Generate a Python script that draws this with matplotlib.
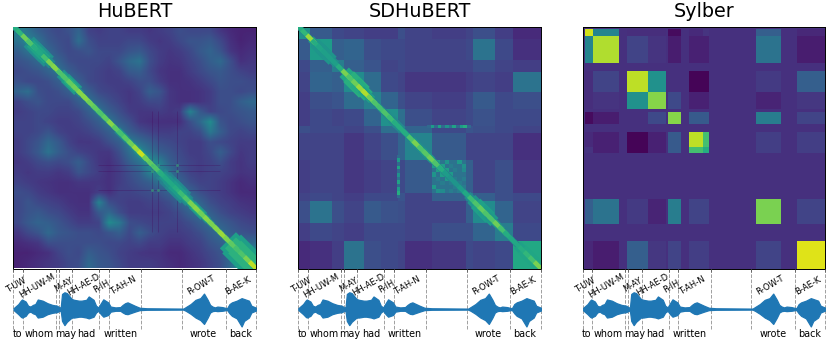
import numpy as np
import matplotlib
matplotlib.use("Agg")
import matplotlib.pyplot as plt
from matplotlib.collections import LineCollection

W, H = 831, 344
titles = ["HuBERT", "SDHuBERT", "Sylber"]
syllables = ["T-UW", "HH-UW-M", "M-AY", "HH-AE-D", "R-IH", "T-AH-N", "R-OW-T", "B-AE-K"]
syllable_x = [.010, .096, .206, .288, .364, .450, .773, .927]
syllable_y = [1.41, 1.37, 1.47, 1.47, 1.35, 1.37, 1.41, 1.41]
words = ["to", "whom", "may", "had", "written", "wrote", "back"]
word_x = [.018, .107, .213, .300, .440, .783, .934]
boundaries = [0, .038, .174, .188, .243, .354, .393, .527, .694, .874, 1]

wave_x = [0, .02, .03, .035, .05, .06, .07, .08, .09, .10, .12, .14, .16, .18, .19, .195, .2, .21, .22, .24, .25, .27, .28, .30,
          .31, .33, .34, .35, .36, .37, .39, .40, .42, .44, .45, .46, .47, .50, .52, .55, .70, .71, .73, .75, .77, .785, .80, .81,
          .82, .83, .84, .86, .88, .89, .90, .92, .94, .95, .97, .98, 1]
wave_up = [.05, .3, .5, .57, .45, .2, .15, .25, .3, .57, .5, .35, .25, .2, .08, .15, .9, 1.0, .95, .6, .55, .5, .5, .55,
           .75, .55, .2, .1, .35, .58, .4, .15, .1, .12, .25, .35, .4, .2, .08, .05, .03, .12, .3, .55, .65, .92, .55, .25,
           .15, .1, .15, .12, .05, .3, .4, .5, .65, .6, .5, .2, .08]
wave_dn = [.05, .3, .45, .5, .4, .2, .15, .25, .3, .5, .45, .3, .22, .18, .08, .15, .7, .95, .75, .5, .5, .45, .45, .5,
           .55, .45, .2, .1, .3, .45, .35, .15, .1, .1, .2, .28, .3, .15, .06, .04, .03, .1, .28, .5, .65, .88, .5, .2,
           .12, .1, .12, .1, .05, .25, .4, .55, 1.03, .7, .5, .2, .08]

hub_upper = [
    [45,38,30,25,22,25,32,20,18,20,20,18,18,16,18,20,24,22,22,22,16,12,10,10],
    [45,38,28,24,22,36,24,20,20,20,22,22,18,16,18,22,26,26,28,22,14,10,12],
    [42,34,26,22,24,26,22,22,22,26,28,22,18,16,18,22,28,32,26,16,12,14],
    [38,32,24,22,22,22,20,26,34,38,24,18,15,16,20,24,30,34,24,14,16],
    [38,30,24,22,20,18,20,28,30,22,16,14,14,18,22,26,28,24,20,18],
    [38,30,22,20,18,18,20,24,24,18,14,14,15,18,22,26,24,24,22],
    [38,30,22,20,18,16,20,30,26,16,14,14,15,18,24,24,22,24],
    [38,30,24,20,16,18,22,22,16,14,14,15,18,24,24,30,34],
    [38,30,24,18,16,16,18,16,18,44,28,20,22,24,26,28],
    [40,30,24,16,14,14,14,14,24,34,48,26,22,24,26],
    [40,30,24,20,18,18,20,20,24,40,30,22,20,22],
    [42,36,30,24,22,20,18,18,24,22,20,18,18],
    [48,38,30,26,22,18,18,22,30,22,16,18],
    [50,44,30,24,20,18,20,24,18,15,18],
    [48,38,26,20,18,20,20,18,15,16],
    [42,32,24,20,20,18,15,12,14],
    [40,32,24,20,18,15,12,12],
    [40,32,24,20,18,15,14],
    [38,30,24,20,18,16],
    [36,30,26,22,20],
    [36,30,26,24],
    [36,34,34],
    [45,50],
    [60],
]
hub_core = [.62, .65, .78, .72, .62, .60, .70, .80, .82, .72, .72, .76, .78, .82, .82, .78, .75, .72, .75, .82, .74, .70, .74, .78,
            .85, .92, .78, .75, .72, .62, .60, .60, .62, .68, .72, .80, .82, .78, .82, .80, .82, .85, .80, .75, .70, .72, .80, .90]
hub_halo = [.5, .5, .5, .55, .58, .58, .55, .5, .5, .5, .58, .62, .55, .5, .5, .5, .5, .5, .5, .5, .5, .55, .55, .55,
            .55, .55, .5, .5, .5, .52, .52, .52, .55, .55, .55, .6, .62, .6, .55, .5, .5, .5, .5, .58, .64, .64, .64, .62]
hub_width = [6, 6, 6, 8, 15, 15, 10, 7, 6, 7, 11, 12, 8, 6, 6, 6, 7, 7, 6, 6, 6, 8, 7, 6,
             8, 9, 6, 6, 7, 9, 14, 16, 16, 12, 9, 8, 10, 8, 7, 6, 6, 6, 6, 8, 24, 28, 22, 8]
hub_line_pos = [.572, .597, .675]

sd_edges = [0, .05, .14, .19, .27, .34, .41, .44, .55, .69, .72, .81, .885, 1]
sd_upper = [
    [50,28,22,20,18,18,24,20,18,20,24,18,12],
    [55,30,32,24,22,22,20,20,22,38,22,14],
    [42,30,26,20,22,20,20,20,24,20,18],
    [48,35,22,20,16,16,18,20,18,38],
    [44,32,24,20,18,22,28,22,24],
    [50,36,24,20,22,25,22,22],
    [42,32,22,26,24,22,20],
    [45,28,20,20,20,14],
    [42,30,20,24,16],
    [42,30,24,22],
    [48,32,20],
    [42,22],
    [60],
]
sd_core = [.62, .66, .85, .62, .58, .56, .56, .56, .62, .80, .72, .78, .85, .88, .78, .72, .70, .72, .68, .62, .62, .62, .72, .80,
           .72, .74, .78, .72, .62, .55, .52, .52, .55, .6, .68, .72, .76, .72, .72, .78, .70, .62, .6, .6, .62, .66, .7, .8]
sd_halo = [.5, .5, .5, .55, .55, .55, .55, .5, .5, .55, .62, .66, .64, .6, .55, .5, .5, .5, .52, .5, .5, .5, .52, .55,
           .52, .55, .55, .5, .5, .45, .45, .45, .45, .45, .5, .55, .6, .58, .56, .55, .5, .5, .45, .45, .6, .62, .62, .62]
sd_width = [6, 6, 5, 8, 12, 12, 8, 6, 5, 6, 14, 16, 13, 9, 6, 6, 7, 7, 9, 9, 6, 6, 6, 8,
            8, 8, 7, 6, 6, 6, 6, 6, 6, 6, 9, 12, 14, 12, 8, 7, 6, 6, 6, 6, 10, 12, 10, 6]
sd_check = [
    [38,56,38,52,38,38,54,38],
    [54,40,56,38,42,38,38,50],
    [38,56,42,56,38,42,38,48],
    [52,38,56,46,54,38,38,38],
    [38,42,38,54,46,42,38,42],
    [38,38,42,38,42,46,42,38],
    [54,38,38,38,38,42,50,42],
    [38,50,48,38,42,38,42,60],
]
sd_stripe = [.34, .55, .34, .58, .34, .5, .38, .58, .34, .55, .62, .34]

syl_edges = [(.011, .041), (.041, .151), (.184, .271), (.271, .342), (.352, .404), (.437, .497), (.497, .522), (.712, .815), (.885, 1.0)]
syl_background = .14
syl_matrix = [
    [.93, .45, .13, .13, .03, .12, .15, .30, .11],
    [.45, .88, .20, .15, .08, .09, .09, .38, .08],
    [.13, .20, .90, .50, .14, .01, .01, .17, .30],
    [.13, .15, .50, .82, .22, .09, .09, .10, .16],
    [.03, .08, .14, .22, .82, .28, .28, .42, .20],
    [.12, .09, .01, .09, .28, .90, .70, .18, .18],
    [.15, .09, .01, .09, .28, .70, .62, .18, .18],
    [.30, .38, .17, .10, .42, .20, .20, .80, .20],
    [.11, .08, .30, .16, .20, .18, .18, .20, .95],
]


def mirror(upper):
    n = len(upper)
    m = np.zeros((n, n))
    for i, row in enumerate(upper):
        for k, v in enumerate(row):
            m[i, i + k] = m[i + k, i] = v / 100
    return m


def px_axes(l, t, r, b):
    return fig.add_axes([l / W, 1 - b / H, (r - l) / W, (b - t) / H])


def diagonal(ax, vals, widths_px, z):
    t = np.linspace(0, 1, len(vals) + 1)
    segs = [[(a, a), (b, b)] for a, b in zip(t[:-1], t[1:])]
    lc = LineCollection(segs, array=np.asarray(vals), cmap="viridis", norm=plt.Normalize(0, 1),
                        linewidths=np.asarray(widths_px, float) * 0.72, capstyle="projecting", zorder=z)
    ax.add_collection(lc)


fig = plt.figure(figsize=(W / 100, H / 100), dpi=100)
lefts = [13.5, 298.3, 582.7]
width = 242.7
kw = dict(cmap="viridis", vmin=0, vmax=1)

for idx, left in enumerate(lefts):
    ax = px_axes(left, 26.5, left + width, 268.5)
    if idx == 0:
        ax.imshow(mirror(hub_upper), extent=(0, 1, 1, 0), interpolation="bilinear", aspect="auto", **kw)
        diagonal(ax, np.array(hub_halo) - .08, np.array(hub_width) * .95, 3)
        diagonal(ax, hub_halo, np.array(hub_width) * .65, 3.1)
        diagonal(ax, hub_core, [4.5] * len(hub_core), 3.2)
        for p in hub_line_pos:
            ax.hlines(p, .35, .85, color="#440154", lw=.6, alpha=.3, zorder=2)
            ax.vlines(p, .35, .85, color="#440154", lw=.6, alpha=.3, zorder=2)
        px, py = np.meshgrid(hub_line_pos, hub_line_pos)
        ax.scatter(px.ravel(), py.ravel(), s=4, c="#35b779", linewidths=0, alpha=.6, zorder=4)
    elif idx == 1:
        ax.pcolormesh(sd_edges, sd_edges, mirror(sd_upper), shading="flat", **kw)
        chk = np.linspace(.55, .69, len(sd_check) + 1)
        ax.pcolormesh(chk, chk, np.array(sd_check) / 100, shading="flat", zorder=2, **kw)
        st = np.linspace(.53, .71, len(sd_stripe) + 1)
        ax.pcolormesh(st, [.408, .418], np.array([sd_stripe]), zorder=2, **kw)
        ax.pcolormesh([.408, .418], st, np.array([sd_stripe]).T, zorder=2, **kw)
        diagonal(ax, np.array(sd_halo) - .03, np.array(sd_width) * .95, 3)
        diagonal(ax, sd_core, [4.5] * len(sd_core), 3.2)
    else:
        edges = sorted({0.0, 1.0} | {e for pair in syl_edges for e in pair})
        grid = np.full((len(edges) - 1, len(edges) - 1), syl_background)
        pos = [edges.index(a) for a, b in syl_edges]
        for i, pi in enumerate(pos):
            for j, pj in enumerate(pos):
                grid[pi, pj] = syl_matrix[i][j]
        ax.pcolormesh(edges, edges, grid, shading="flat", **kw)
    ax.set_xlim(0, 1)
    ax.set_ylim(1, 0)
    ax.set_yticks([])
    ax.set_xticks(boundaries)
    ax.set_xticklabels([])
    ax.tick_params(axis="x", length=2, width=.6)
    for s in ax.spines.values():
        s.set_linewidth(.7)
    ax.set_title(titles[idx], fontsize=13.8, pad=6.5)

    wa = px_axes(left, 268.5, left + width, 329)
    wa.fill_between(wave_x, wave_up, -np.array(wave_dn), color="#1f77b4", linewidth=.9, zorder=2)
    wa.set_xlim(0, 1)
    wa.set_ylim(-1.18, 2.41)
    wa.axis("off")
    for b in boundaries:
        wa.axvline(b, color="gray", lw=.7, ls="--", alpha=.75, clip_on=False, zorder=1)
    for name, x, y in zip(syllables, syllable_x, syllable_y):
        wa.text(x, y, name, rotation=30, fontsize=6, ha="center", va="center", rotation_mode="anchor", zorder=5)
    for name, x in zip(words, word_x):
        wa.text(x, -1.5, name, fontsize=6.9, ha="center", va="center", zorder=5)

fig.savefig("out.png", dpi=100)
